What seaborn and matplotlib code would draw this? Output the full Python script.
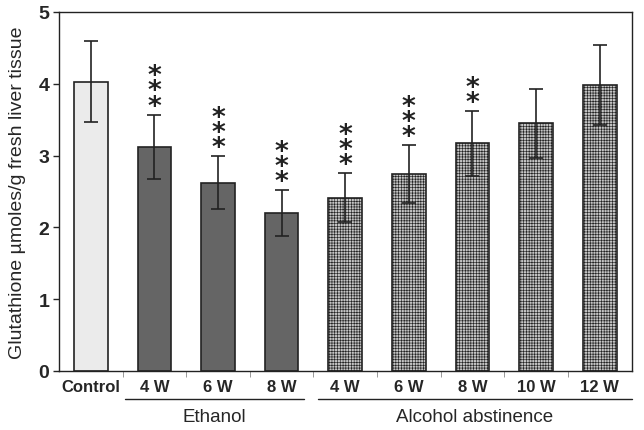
import matplotlib
matplotlib.use("Agg")
import matplotlib.pyplot as plt
import numpy as np
import pandas as pd
import seaborn as sns

# --- DATA ---
labels = ["Control", "4 W", "6 W", "8 W", "4 W", "6 W", "8 W", "10 W", "12 W"]
groups = ["Control", "Ethanol", "Ethanol", "Ethanol",
          "Abstinence", "Abstinence", "Abstinence", "Abstinence", "Abstinence"]
means = [4.03, 3.12, 2.62, 2.20, 2.41, 2.74, 3.17, 3.45, 3.98]
errors = [0.56, 0.45, 0.37, 0.32, 0.34, 0.40, 0.45, 0.48, 0.56]
stars = ["", "***", "***", "***", "***", "***", "**", "", ""]

df = pd.DataFrame({"pos": [str(i) for i in range(len(labels))],
                   "mean": means, "group": groups})

sns.set_style("white")
plt.rcParams["font.family"] = ["Liberation Sans", "DejaVu Sans"]
plt.rcParams["hatch.linewidth"] = 0.45

fig = plt.figure(figsize=(6.44, 4.31), dpi=100)
ax = fig.add_axes([0.0916, 0.137, 0.889, 0.833])

palette = {"Control": "#ebebeb", "Ethanol": "#656565", "Abstinence": "#c4c4c4"}
sns.barplot(data=df, x="pos", y="mean", hue="group", palette=palette,
            dodge=False, width=0.53, edgecolor="#222222", linewidth=1.2,
            legend=False, ax=ax)

for patch, g in zip(ax.patches, groups):
    if g == "Abstinence":
        patch.set_hatch("++++++")

x = np.arange(len(labels))
ax.errorbar(x, means, yerr=errors, fmt="none", ecolor="#222222",
            elinewidth=1.2, capsize=5, capthick=1.2)

# significance asterisks, stacked vertically above the error bars
for xi, m, e, s in zip(x, means, errors, stars):
    if s:
        ax.annotate("\n".join(s), xy=(xi, m + e), xytext=(0, -5),
                    textcoords="offset pixels", ha="center", va="bottom",
                    fontsize=19, linespacing=0.46, color="#222222",
                    fontweight="bold", family="DejaVu Sans")

ax.set_xlim(-0.5, len(labels) - 0.5)
ax.set_ylim(0, 5)
ax.set_yticks([0, 1, 2, 3, 4, 5])
ax.set_yticklabels(["0", "1", "2", "3", "4", "5"], fontsize=14, fontweight="bold")
ax.set_xticks(x)
ax.set_xticklabels(labels, fontsize=12, fontweight="bold")
ax.tick_params(axis="x", length=0, pad=6)
ax.tick_params(axis="y", length=4, direction="out", left=True, width=1, pad=3)
# minor ticks between categories
ax.set_xticks(np.arange(0.5, len(labels) - 0.5), minor=True)
ax.tick_params(axis="x", which="minor", length=4, bottom=True, color="#888888")

for sp in ax.spines.values():
    sp.set_color("#222222")
    sp.set_linewidth(1.0)

ax.set_xlabel("")
ax.set_ylabel("Glutathione \u00b5moles/g fresh liver tissue", fontsize=14)
ax.yaxis.set_label_coords(-0.058, 0.5)

# group brackets below the axis
line_y = -0.078
ax.plot([(125 - 59) / 573, (304 - 59) / 573], [line_y, line_y], transform=ax.transAxes,
        color="#222222", lw=1.0, clip_on=False)
ax.plot([(318 - 59) / 573, 1.0], [line_y, line_y], transform=ax.transAxes,
        color="#222222", lw=1.0, clip_on=False)
ax.text(((125 + 304) / 2 - 59) / 573, -0.128, "Ethanol", transform=ax.transAxes,
        ha="center", va="center", fontsize=13.5)
ax.text(((318 + 632) / 2 - 59) / 573, -0.128, "Alcohol abstinence",
        transform=ax.transAxes, ha="center", va="center", fontsize=13.5)

fig.savefig("out.png", dpi=100)
